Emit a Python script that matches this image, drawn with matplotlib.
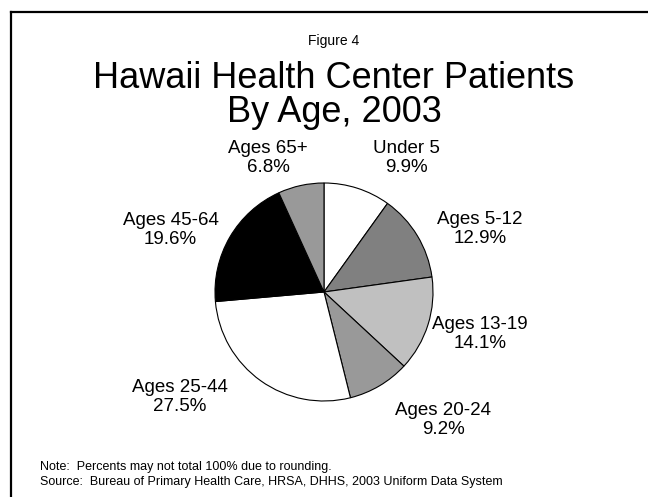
import matplotlib
matplotlib.use("Agg")
import matplotlib.pyplot as plt
from matplotlib.lines import Line2D

plt.rcParams['font.family'] = ['Liberation Sans', 'DejaVu Sans']

categories = ["Under 5", "Ages 5-12", "Ages 13-19", "Ages 20-24", "Ages 25-44", "Ages 45-64", "Ages 65+"]
values = [9.9, 12.9, 14.1, 9.2, 27.5, 19.6, 6.8]
colors = ["#ffffff", "#808080", "#c0c0c0", "#999999", "#ffffff", "#000000", "#999999"]
# label positions in pie-radius units
label_pos = [(0.752, 1.229), (1.431, 0.578), (1.431, -0.385), (1.092, -1.174),
             (-1.321, -0.963), (-1.408, 0.569), (-0.514, 1.229)]

W, H = 648, 497
fig = plt.figure(figsize=(W / 100, H / 100), dpi=100)

cx, cy, r = 324, 292, 109
ax = fig.add_axes([(cx - r) / W, (H - cy - r) / H, 2 * r / W, 2 * r / H])
ax.pie(values, colors=colors, startangle=90, counterclock=False, radius=1,
       wedgeprops=dict(edgecolor="black", linewidth=0.8))
ax.set_xlim(-1, 1)
ax.set_ylim(-1, 1)
ax.set_aspect('equal')
ax.axis('off')

for cat, v, (lx, ly) in zip(categories, values, label_pos):
    ax.text(lx, ly, f"{cat}\n{v:.1f}%", ha="center", va="center", fontsize=13.5,
            linespacing=1.1)

tx = 334 / W
fig.text(tx, 1 - 41 / H, "Figure 4", ha="center", va="center", fontsize=10)
fig.text(tx, 1 - 78 / H, "Hawaii Health Center Patients", ha="center", va="center", fontsize=26)
fig.text(tx, 1 - 113 / H, "By Age, 2003", ha="center", va="center", fontsize=26)

fig.text(40 / W, 1 - 467 / H, "Note:  Percents may not total 100% due to rounding.",
         ha="left", va="center", fontsize=9)
fig.text(40 / W, 1 - 482 / H, "Source:  Bureau of Primary Health Care, HRSA, DHHS, 2003 Uniform Data System",
         ha="left", va="center", fontsize=9)

fig.add_artist(Line2D([11 / W, 1], [1 - 12 / H, 1 - 12 / H], color="black", linewidth=1.6,
                      transform=fig.transFigure))
fig.add_artist(Line2D([11 / W, 11 / W], [0, 1 - 12 / H], color="black", linewidth=1.6,
                      transform=fig.transFigure))

fig.savefig("out.png", dpi=100, facecolor="white")
